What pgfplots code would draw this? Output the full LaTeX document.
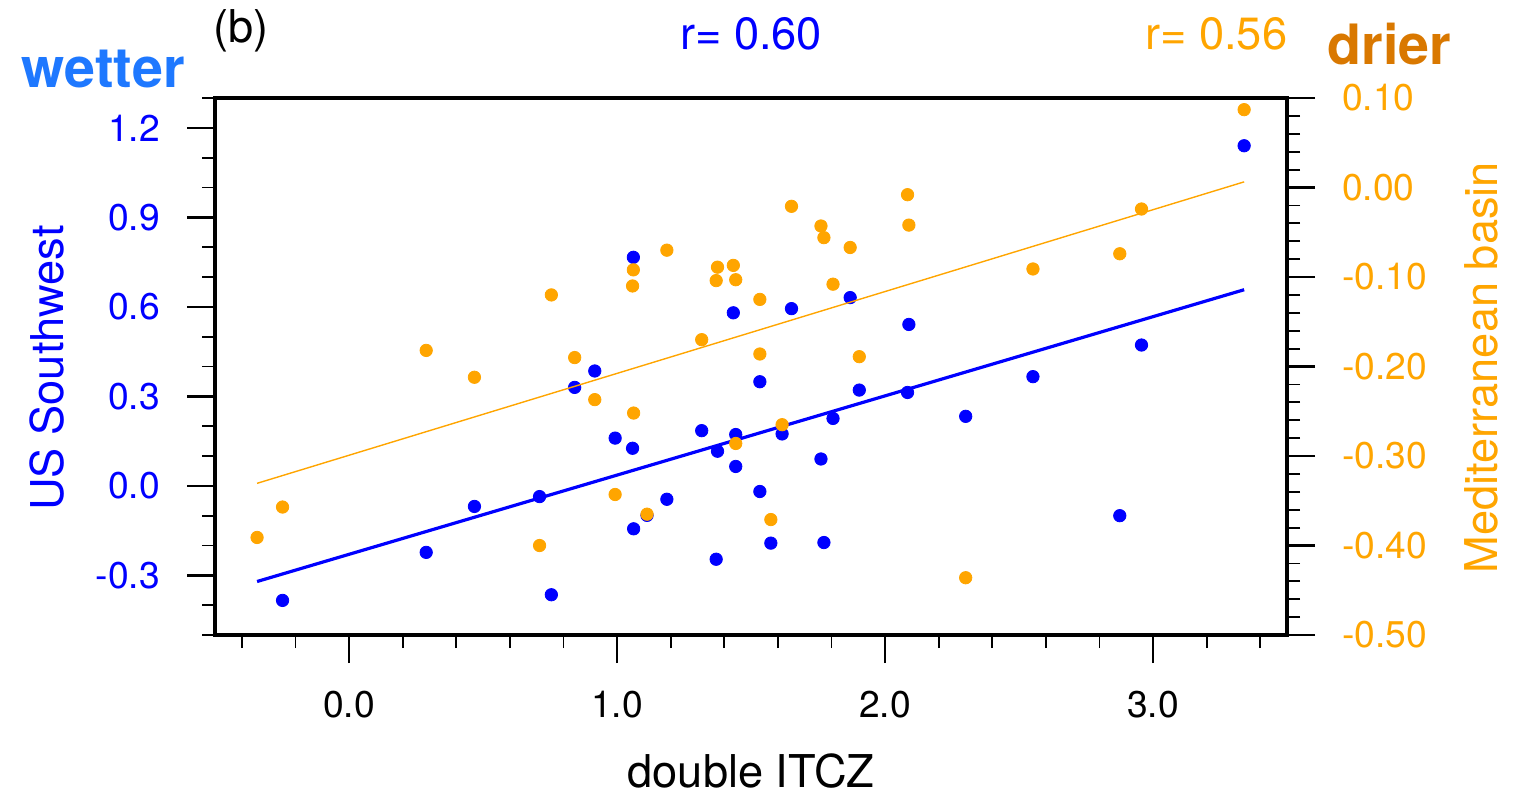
\documentclass[border=0pt]{standalone}
\usepackage{pgfplots}
\pgfplotsset{compat=1.18}
\usepackage{pgfplotstable}
\usepackage{fontspec}
\setmainfont{TeX Gyre Heros}

\definecolor{swblue}{RGB}{0,0,255}
\definecolor{medorange}{RGB}{255,165,0}
\definecolor{wetblue}{RGB}{30,120,255}
\definecolor{dryorange}{RGB}{217,120,0}

% one row per model: double-ITCZ index, US Southwest and Mediterranean responses
\pgfplotstableread{
x      us      med
-0.343 -0.520 -0.391
-0.248 -0.384 -0.357
0.288  -0.223 -0.182
0.468  -0.069 -0.212
0.711  -0.036 -0.400
0.755  -0.365 -0.120
0.842  0.330  -0.190
0.917  0.385  -0.237
0.993  0.160  -0.343
1.058  0.126  -0.110
1.061  0.766  -0.092
1.062  -0.144 -0.252
1.112  -0.099 -0.365
1.186  -0.045 -0.070
1.316  0.185  -0.170
1.370  -0.246 -0.104
1.375  0.116  -0.089
1.434  0.580  -0.087
1.443  0.172  -0.103
1.443  0.065  -0.286
1.533  0.349  -0.125
1.533  -0.019 -0.186
1.574  -0.192 -0.371
1.616  0.174  -0.265
1.651  0.594  -0.021
1.761  0.090  -0.043
1.772  -0.190 -0.056
1.806  0.226  -0.108
1.870  0.631  -0.067
1.904  0.321  -0.189
2.084  0.313  -0.008
2.089  0.541  -0.042
2.301  0.233  -0.436
2.552  0.366  -0.091
2.876  -0.100 -0.074
2.957  0.472  -0.024
3.340  1.140  0.087
}\models

\pgfplotsset{
  panel/.style={
    at={(53.75pt,39.75pt)}, anchor=south west,
    scale only axis, width=268pt, height=134.25pt,
    xmin=-0.5, xmax=3.5,
    tick align=outside,
    major tick length=7pt, minor tick length=3.25pt,
    every tick/.style={black, line width=0.6pt},
    every minor tick/.style={black, line width=0.45pt},
    ticklabel style={font=\fontsize{9.3}{11}\selectfont},
  },
  dots/.style={only marks, mark=*, mark size=1.55pt,
    mark options={draw=#1, fill=#1, line width=0.2pt}, color=#1},
}

\begin{document}
\begin{tikzpicture}
\path[use as bounding box] (0,0) rectangle (378.75pt,198.5pt);

% left axis: US Southwest
\begin{axis}[
  panel,
  ymin=-0.5, ymax=1.3,
  axis line style={line width=1pt},
  xtick={0,1,2,3},
  minor xtick={-0.4,-0.2,0.2,0.4,0.6,0.8,1.2,1.4,1.6,1.8,2.2,2.4,2.6,2.8,3.2,3.4},
  ytick={-0.3,0,0.3,0.6,0.9,1.2},
  minor ytick={-0.5,-0.4,-0.2,-0.1,0.1,0.2,0.4,0.5,0.7,0.8,1.0,1.1,1.3},
  xtick pos=bottom, ytick pos=left,
  yticklabel style={text=swblue, xshift=-3.25pt},
  xticklabel style={text=black, yshift=-3.5pt},
  /pgf/number format/.cd, fixed, fixed zerofill, precision=1, assume math mode=true,
]
\addplot[dots=swblue, restrict y to domain=-0.5:1.3]
  table[x=x, y=us] {\models};
\addplot[swblue, line width=0.8pt, no marks]
  table[x=x, y={create col/linear regression={y=us}}] {\models};
\end{axis}

% right axis: Mediterranean basin
\begin{axis}[
  panel,
  ymin=-0.5, ymax=0.1,
  hide x axis,
  axis line style={draw=none},
  ytick={-0.5,-0.4,-0.3,-0.2,-0.1,0,0.1},
  minor ytick={-0.48,-0.46,-0.44,-0.42,-0.38,-0.36,-0.34,-0.32,-0.28,-0.26,-0.24,-0.22,-0.18,-0.16,-0.14,-0.12,-0.08,-0.06,-0.04,-0.02,0.02,0.04,0.06,0.08},
  ytick pos=right,
  yticklabel style={text=medorange, anchor=west, xshift=3.25pt},
  /pgf/number format/.cd, fixed, fixed zerofill, precision=2, assume math mode=true,
]
\addplot[dots=medorange]
  table[x=x, y=med] {\models};
\addplot[medorange, line width=0.35pt, no marks]
  table[x=x, y={create col/linear regression={y=med}}] {\models};
\end{axis}

% titles and axis labels
\node[anchor=base west, inner sep=0pt, font=\fontsize{11.3}{13}\selectfont] at (53.25pt,187.75pt) {(b)};
\node[anchor=base, inner sep=0pt, text=swblue, font=\fontsize{11.3}{13}\selectfont] at (187.75pt,186pt) {r= 0.60};
\node[anchor=base east, inner sep=0pt, text=medorange, font=\fontsize{11.3}{13}\selectfont] at (322pt,186pt) {r= 0.56};
\node[anchor=base west, inner sep=0pt, text=wetblue, font=\fontsize{13.9}{16}\selectfont\bfseries] at (5.25pt,176.5pt) {wetter};
\node[anchor=base west, inner sep=0pt, text=dryorange, font=\fontsize{13.9}{16}\selectfont\bfseries] at (331.75pt,182.25pt) {drier};
\node[anchor=base, rotate=90, inner sep=0pt, text=swblue, font=\fontsize{11.3}{13}\selectfont] at (15.75pt,106.5pt) {US Southwest};
\node[anchor=base, rotate=90, inner sep=0pt, text=medorange, font=\fontsize{11.3}{13}\selectfont] at (374.25pt,106.6pt) {Mediterranean basin};
\node[anchor=base, inner sep=0pt, font=\fontsize{11.3}{13}\selectfont] at (187.75pt,1.75pt) {double ITCZ};
\end{tikzpicture}
\end{document}
